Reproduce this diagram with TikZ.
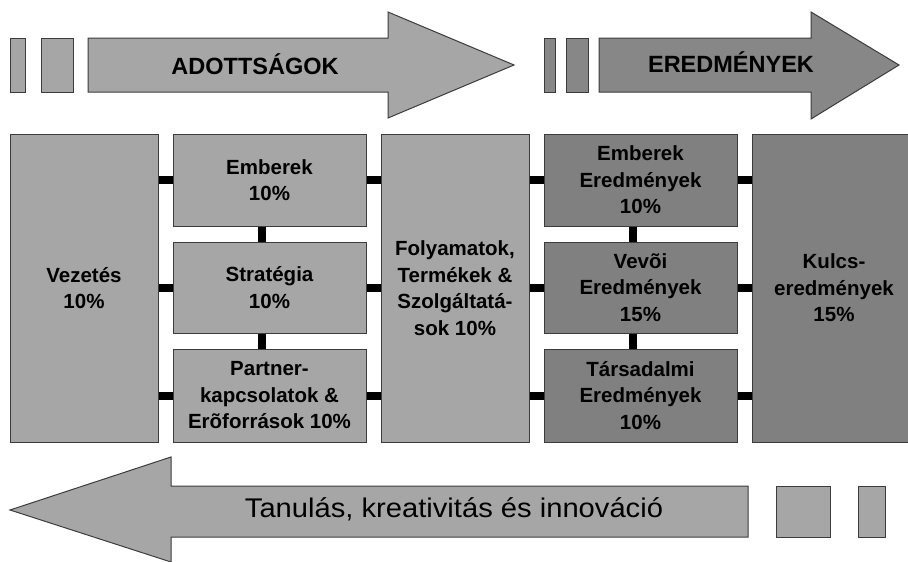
\documentclass[tikz,border=0pt]{standalone}
\usepackage{fontspec}
\setmainfont{Liberation Sans}
\newfontfamily\widefont[FakeStretch=1.08]{Liberation Sans}
\definecolor{lightfill}{HTML}{A6A6A6}
\definecolor{darkfill}{HTML}{808080}
\definecolor{arrowdark}{HTML}{878787}
\definecolor{edge}{HTML}{3C3C3C}
\tikzset{
  box/.style={draw=edge, line width=1pt, inner sep=0pt, align=center,
    font=\bfseries\fontsize{20.5}{26.5}\selectfont, text=black},
  lbox/.style={box, fill=lightfill},
  dbox/.style={box, fill=darkfill},
  bar/.style={line width=8pt, draw=black},
  shapeL/.style={fill=lightfill, draw=edge, line width=1pt},
  shapeD/.style={fill=arrowdark, draw=edge, line width=1pt},
  arrowtext/.style={font=\bfseries\fontsize{23.5}{28}\selectfont, text=black, inner sep=0pt}
}
\begin{document}
\begin{tikzpicture}[x=1pt,y=-1pt]
\useasboundingbox (0,0) rectangle (908,562);
\clip (0,0) rectangle (908,562);
% top arrows
\path[shapeL] (10,38) rectangle (25,92);
\path[shapeL] (41,38) rectangle (73,92);
\path[shapeL] (88,38) -- (388,38) -- (388,12) -- (514,65) -- (388,118) -- (388,92) -- (88,92) -- cycle;
\node[arrowtext] (adott) at (255,64) {ADOTTSÁGOK};
\path[shapeD] (544,38) rectangle (555,92);
\path[shapeD] (566,38) rectangle (588,92);
\path[shapeD] (599,38) -- (811,38) -- (811,12) -- (899,65) -- (811,119) -- (811,92) -- (599,92) -- cycle;
\node[arrowtext] (ered) at (731,62) {EREDMÉNYEK};
% boxes
\node[lbox, minimum width=148, minimum height=308] (vez) at (84,288) {Vezetés\\10\%};
\node[lbox, minimum width=193, minimum height=92] (emb) at (269.5,180) {Emberek\\10\%};
\node[lbox, minimum width=193, minimum height=91] (str) at (269.5,287.5) {Stratégia\\10\%};
\node[lbox, minimum width=193, minimum height=93] (par) at (269.5,395.5) {Partner-\\kapcsolatok \&\\Erõforrások 10\%};
\node[lbox, minimum width=148, minimum height=308] (fol) at (455,288) {Folyamatok,\\Termékek \&\\Szolgáltatá-\\sok 10\%};
\node[dbox, minimum width=193, minimum height=92] (ee) at (640.5,180) {Emberek\\Eredmények\\10\%};
\node[dbox, minimum width=193, minimum height=91] (ve) at (640.5,287.5) {Vevõi\\Eredmények\\15\%};
\node[dbox, minimum width=193, minimum height=93] (te) at (640.5,395.5) {Társadalmi\\Eredmények\\10\%};
\node[dbox, minimum width=164, minimum height=308] (kul) at (834,288) {Kulcs-\\eredmények\\15\%};
% connectors
\draw[bar] (vez.east |- emb.west) -- (emb.west);
\draw[bar] (vez.east |- str.west) -- (str.west);
\draw[bar] (vez.east |- par.west) -- (par.west);
\draw[bar] (emb.east) -- (fol.west |- emb.east);
\draw[bar] (str.east) -- (fol.west |- str.east);
\draw[bar] (par.east) -- (fol.west |- par.east);
\draw[bar] (fol.east |- ee.west) -- (ee.west);
\draw[bar] (fol.east |- ve.west) -- (ve.west);
\draw[bar] (fol.east |- te.west) -- (te.west);
\draw[bar] (ee.east) -- (kul.west |- ee.east);
\draw[bar] (ve.east) -- (kul.west |- ve.east);
\draw[bar] (te.east) -- (kul.west |- te.east);
\draw[bar] ([xshift=-7.5pt]emb.south) -- ([xshift=-7.5pt]str.north);
\draw[bar] ([xshift=-7.5pt]str.south) -- ([xshift=-7.5pt]par.north);
\draw[bar] ([xshift=-7.5pt]ee.south) -- ([xshift=-7.5pt]ve.north);
\draw[bar] ([xshift=-7.5pt]ve.south) -- ([xshift=-7.5pt]te.north);
% bottom arrow
\path[shapeL] (748,486) -- (171,486) -- (171,457) -- (10,510) -- (171,562) -- (171,537) -- (748,537) -- cycle;
\node[font=\widefont\fontsize{27}{32}\selectfont, text=black, inner sep=0pt, anchor=base] (tan) at (454,517) {Tanulás, kreativitás és innováció};
\path[shapeL] (776,486) rectangle (830,537);
\path[shapeL] (858,486) rectangle (885,537);
\end{tikzpicture}
\end{document}
